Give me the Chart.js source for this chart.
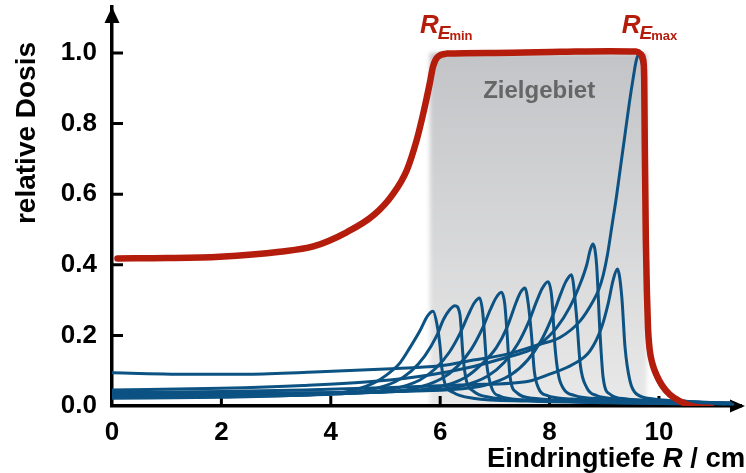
<!DOCTYPE html>
<html>
<head>
<meta charset="utf-8">
<script src="https://cdn.jsdelivr.net/npm/chart.js@4.4.1/dist/chart.umd.min.js"></script>
<style>
  html, body { margin: 0; padding: 0; background: #fff; }
  #wrap { width: 746px; height: 473px; }
</style>
</head>
<body>
<div id="wrap"><canvas id="c" width="746" height="473"></canvas></div>
<script>
// Depth in cm, relative dose
const xTickLabels = [0, 2, 4, 6, 8, 10];
const yTickLabels = [0, 0.2, 0.4, 0.6, 0.8, 1.0];

// target volume (depth range) and its dose level
const targetZone = [5.81, 9.78];
const targetDose = 1.0;

// spread-out Bragg peak (sum)
const sobp = [[0.1,0.418],[1.0,0.419],[1.97,0.423],[3.07,0.437],[3.68,0.452],[4.29,0.492],[4.78,0.540],[5.14,0.601],[5.39,0.668],[5.57,0.753],[5.69,0.828],[5.81,0.914],[5.87,0.962],[5.95,0.988],[6.12,0.998],[7.0,1.0],[8.2,1.003],[9.1,1.005],[9.58,1.004],[9.67,0.996],[9.71,0.982],[9.73,0.93],[9.74,0.75],[9.76,0.47],[9.78,0.32],[9.8,0.22],[9.83,0.16],[9.88,0.12],[9.95,0.09],[10.05,0.06],[10.2,0.032],[10.38,0.014],[10.69,-0.003],[10.96,-0.005]];

// individual weighted Bragg peaks
const peak1 = [[0,0.022],[2,0.025],[3.5,0.031],[4.27,0.04],[4.77,0.064],[5.07,0.094],[5.27,0.123],[5.45,0.166],[5.63,0.213],[5.77,0.255],[5.87,0.268],[5.94,0.232],[6.0,0.166],[6.03,0.109],[6.09,0.062],[6.24,0.038],[6.6,0.022],[7.6,0.014],[9,0.009],[10.5,0.006]];
const peak2 = [[0,0.025],[2,0.027],[3.8,0.033],[4.67,0.045],[5.17,0.068],[5.47,0.099],[5.72,0.142],[5.94,0.2],[6.06,0.245],[6.17,0.272],[6.27,0.284],[6.36,0.26],[6.42,0.137],[6.48,0.071],[6.6,0.043],[6.9,0.025],[8,0.014],[9.5,0.009],[10.8,0.006]];
const peak3 = [[0,0.027],[2,0.029],[4.2,0.035],[5.12,0.048],[5.62,0.073],[5.92,0.107],[6.17,0.153],[6.37,0.208],[6.52,0.26],[6.62,0.291],[6.72,0.306],[6.78,0.262],[6.85,0.12],[6.94,0.052],[7.09,0.028],[7.5,0.018],[8.5,0.013],[10,0.009],[11,0.006]];
const peak4 = [[0,0.029],[2.2,0.031],[4.5,0.037],[5.52,0.05],[6.02,0.077],[6.32,0.113],[6.57,0.161],[6.77,0.219],[6.92,0.274],[7.02,0.306],[7.12,0.322],[7.18,0.29],[7.22,0.213],[7.28,0.08],[7.4,0.038],[7.7,0.022],[9,0.013],[10.5,0.008],[11.2,0.006]];
const peak5 = [[0,0.031],[2.4,0.033],[4.8,0.039],[5.95,0.053],[6.45,0.08],[6.75,0.117],[7.03,0.166],[7.22,0.222],[7.4,0.298],[7.47,0.322],[7.55,0.334],[7.61,0.29],[7.67,0.2],[7.72,0.1],[7.8,0.05],[7.95,0.03],[8.4,0.02],[9.6,0.013],[11.3,0.007]];
const peak6 = [[0,0.033],[2.6,0.035],[5.2,0.041],[6.37,0.056],[6.87,0.085],[7.17,0.123],[7.42,0.176],[7.62,0.239],[7.77,0.299],[7.87,0.334],[7.97,0.352],[8.04,0.308],[8.1,0.166],[8.16,0.09],[8.25,0.05],[8.45,0.03],[9,0.02],[10,0.013],[11.3,0.008]];
const peak7 = [[0,0.035],[2.8,0.037],[5.6,0.043],[6.8,0.058],[7.3,0.089],[7.6,0.13],[7.85,0.186],[8.05,0.253],[8.2,0.316],[8.3,0.353],[8.4,0.372],[8.49,0.26],[8.56,0.119],[8.68,0.052],[8.85,0.03],[9.3,0.02],[10.3,0.013],[11.3,0.009]];
const peak8 = [[0,0.045],[2,0.05],[3.5,0.058],[4.8,0.07],[5.8,0.088],[6.61,0.112],[7.22,0.138],[7.64,0.158],[7.82,0.175],[8.13,0.222],[8.37,0.28],[8.56,0.346],[8.68,0.4],[8.74,0.44],[8.79,0.459],[8.86,0.4],[8.92,0.213],[8.98,0.08],[9.1,0.034],[9.4,0.02],[10.3,0.012],[11.2,0.008]];
const peak9 = [[0,0.038],[2,0.041],[3.5,0.045],[5,0.052],[6.5,0.06],[7.64,0.071],[8.0,0.09],[8.43,0.118],[8.74,0.156],[8.95,0.222],[9.07,0.289],[9.16,0.355],[9.24,0.388],[9.32,0.31],[9.38,0.166],[9.47,0.071],[9.59,0.034],[9.9,0.02],[10.6,0.012],[11.3,0.008]];
const peak10 = [[0,0.094],[1.5,0.09],[2.5,0.09],[3.7,0.096],[5.0,0.105],[6.0,0.114],[6.61,0.13],[7.22,0.147],[7.82,0.175],[8.19,0.194],[8.56,0.241],[8.8,0.298],[8.9,0.33],[8.98,0.37],[9.06,0.43],[9.14,0.51],[9.22,0.59],[9.3,0.68],[9.38,0.77],[9.46,0.86],[9.53,0.93],[9.58,0.975],[9.62,0.994],[9.69,0.97],[9.725,0.9],[9.74,0.65],[9.76,0.45],[9.78,0.3],[9.8,0.2],[9.83,0.15],[9.88,0.11],[9.95,0.08],[10.05,0.052],[10.2,0.028],[10.4,0.016],[10.8,0.01],[11.35,0.005]];

const blueCurves = [peak1, peak2, peak3, peak4, peak5, peak6, peak7, peak8, peak9, peak10];

const RED = '#b41c0b';
const BLUE = '#0c5283';
const FONT = '"Liberation Sans", Arial, Helvetica, sans-serif';

Chart.defaults.font.family = FONT;

const toXY = pts => pts.map(([x, y]) => ({ x, y }));
const isAt = (list, v) => list.some(t => Math.abs(t - v) < 1e-6);

const datasets = [{
  label: 'SOBP',
  data: toXY(sobp),
  borderColor: RED,
  borderWidth: 6.5,
  cubicInterpolationMode: 'monotone',
  borderCapStyle: 'round',
  borderJoinStyle: 'round',
  pointRadius: 0,
  fill: false,
  order: 0
}].concat(blueCurves.map((c, i) => ({
  label: 'Peak ' + (i + 1),
  data: toXY(c),
  borderColor: BLUE,
  borderWidth: 3,
  cubicInterpolationMode: 'monotone',
  borderCapStyle: 'round',
  borderJoinStyle: 'round',
  pointRadius: 0,
  fill: false,
  order: 1
})));

// shaded target region, drawn under everything
const zonePlugin = {
  id: 'targetZone',
  beforeDraw(chart) {
    const { ctx, scales: { x, y } } = chart;
    const x0 = x.getPixelForValue(targetZone[0]);
    const x1 = x.getPixelForValue(targetZone[1]);
    const yTop = y.getPixelForValue(targetDose);
    const yBot = y.getPixelForValue(0);
    const g = ctx.createLinearGradient(0, yTop, 0, yBot);
    g.addColorStop(0, '#c3c4c7');
    g.addColorStop(1, '#e9e9e9');
    ctx.save();
    ctx.filter = 'blur(2px)';
    ctx.fillStyle = g;
    ctx.fillRect(x0, yTop, x1 - x0, yBot - yTop);
    ctx.restore();

    ctx.save();
    ctx.font = 'bold 24px ' + FONT;
    ctx.fillStyle = '#666666';
    ctx.textAlign = 'center';
    ctx.textBaseline = 'alphabetic';
    ctx.fillText('Zielgebiet', x.getPixelForValue(7.81), y.getPixelForValue(0.873));
    ctx.restore();
  }
};

// inward tick marks and axis arrowheads
const axisPlugin = {
  id: 'axisDecor',
  beforeDatasetsDraw(chart) {
    const { ctx, chartArea: a, scales: { x, y } } = chart;
    ctx.save();
    ctx.strokeStyle = '#000';
    ctx.lineWidth = 3;
    ctx.beginPath();
    x.ticks.forEach(t => {
      if (t.value > 0.01 && t.value <= 11.01) {
        const px = x.getPixelForValue(t.value);
        ctx.moveTo(px, a.bottom);
        ctx.lineTo(px, a.bottom - 10);
      }
    });
    y.ticks.forEach(t => {
      if (t.value > 0.01 && t.value <= 1.001) {
        const py = y.getPixelForValue(t.value);
        ctx.moveTo(a.left, py);
        ctx.lineTo(a.left + 11, py);
      }
    });
    ctx.stroke();

    ctx.fillStyle = '#000';
    ctx.beginPath();
    ctx.moveTo(a.left, a.top);
    ctx.lineTo(a.left - 7.5, a.top + 16);
    ctx.lineTo(a.left + 7.5, a.top + 16);
    ctx.closePath();
    ctx.fill();
    ctx.beginPath();
    ctx.moveTo(a.right + 4, a.bottom);
    ctx.lineTo(a.right - 11, a.bottom - 6.5);
    ctx.lineTo(a.right - 11, a.bottom + 6.5);
    ctx.closePath();
    ctx.fill();
    ctx.restore();
  },
  afterDraw(chart) {
    const { ctx } = chart;
    ctx.save();
    // y-axis title
    ctx.fillStyle = '#000';
    ctx.font = 'bold 28px ' + FONT;
    ctx.translate(35, 133);
    ctx.rotate(-Math.PI / 2);
    ctx.textAlign = 'center';
    ctx.textBaseline = 'alphabetic';
    ctx.fillText('relative Dosis', 0, 0);
    ctx.restore();

    // x-axis title with italic R
    ctx.save();
    ctx.fillStyle = '#000';
    ctx.textBaseline = 'alphabetic';
    ctx.textAlign = 'left';
    let cx = 487;
    const base = 467;
    const parts = [['Eindringtiefe ', 'bold'], ['R', 'italic bold'], [' / cm', 'bold']];
    parts.forEach(([s, st]) => {
      ctx.font = st + ' 27.5px ' + FONT;
      ctx.fillText(s, cx, base);
      cx += ctx.measureText(s).width;
    });
    ctx.restore();

    // range labels R_E,min and R_E,max
    const rangeLabel = (left, sub) => {
      ctx.save();
      ctx.fillStyle = RED;
      ctx.textAlign = 'left';
      ctx.textBaseline = 'alphabetic';
      let px = left;
      ctx.font = 'italic bold 26px ' + FONT;
      ctx.fillText('R', px, 33);
      px += ctx.measureText('R').width - 1;
      ctx.font = 'italic bold 19px ' + FONT;
      ctx.fillText('E', px, 39);
      px += ctx.measureText('E').width - 1;
      ctx.font = 'bold 13px ' + FONT;
      ctx.fillText(sub, px, 40);
      ctx.restore();
    };
    const { scales: { x } } = chart;
    rangeLabel(x.getPixelForValue(5.63), 'min');
    rangeLabel(x.getPixelForValue(9.32), 'max');
  }
};

new Chart(document.getElementById('c'), {
  type: 'line',
  data: { datasets },
  options: {
    responsive: false,
    animation: false,
    devicePixelRatio: 1,
    layout: { autoPadding: false, padding: { top: 7, right: 5, left: 0, bottom: 0 } },
    plugins: { legend: { display: false }, tooltip: { enabled: false } },
    elements: { point: { radius: 0 } },
    scales: {
      x: {
        type: 'linear',
        min: 0,
        max: 11.5,
        grid: { display: false, drawTicks: false },
        border: { display: true, color: '#000', width: 3.5 },
        ticks: {
          stepSize: 0.5,
          autoSkip: false,
          maxRotation: 0,
          padding: 11,
          color: '#000',
          font: { size: 26, weight: 'bold' },
          callback: v => isAt(xTickLabels, v) ? String(v) : null
        },
        afterFit(s) { s.height = 67; s.paddingLeft = 0; s.paddingRight = 0; }
      },
      y: {
        type: 'linear',
        min: 0,
        max: 1.13,
        grid: { display: false, drawTicks: false },
        border: { display: true, color: '#000', width: 3.5 },
        ticks: {
          stepSize: 0.05,
          autoSkip: false,
          padding: 15,
          color: '#000',
          font: { size: 26, weight: 'bold' },
          callback: v => isAt(yTickLabels, v) ? v.toFixed(1) : null
        },
        afterFit(s) { s.width = 112; s.paddingTop = 0; s.paddingBottom = 0; }
      }
    }
  },
  plugins: [zonePlugin, axisPlugin]
});
</script>
</body>
</html>
